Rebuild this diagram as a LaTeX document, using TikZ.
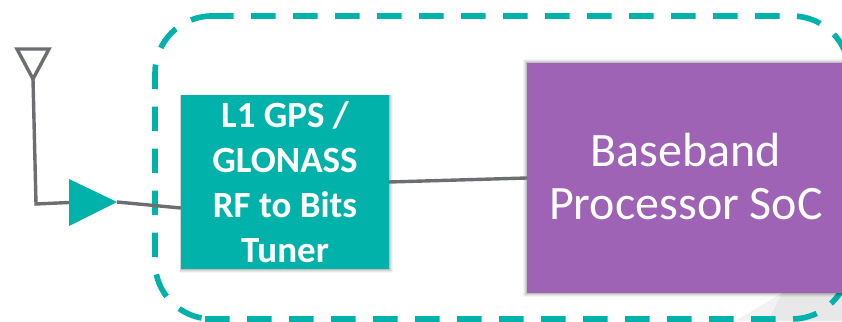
\documentclass[tikz,border=0pt]{standalone}
\usepackage{fontspec}
\setmainfont{Carlito}
\definecolor{tealc}{HTML}{00B2A9}
\definecolor{purp}{HTML}{9E63B5}
\definecolor{wire}{HTML}{6D6E71}
\tikzset{
  wireline/.style={draw=wire,line width=3.4pt,line join=miter},
  fence/.style={draw=tealc,line width=5.6pt,dash pattern=on 24.5pt off 17.5pt,rounded corners=57pt},
  blockbox/.style={rectangle,inner sep=0pt,text=white,align=center},
}
\begin{document}
\begin{tikzpicture}[x=1pt,y=-1pt]
\useasboundingbox (0,0) rectangle (842,321);
\clip (0,0) rectangle (842,321);
% faint background shapes
\fill[black!5] (735,321) -- (782,293) -- (842,293) -- (842,321) -- cycle;
\fill[black!9] (768,321) -- (782,293) -- (842,293) -- (842,321) -- cycle;
% dashed boundary
\draw[fence] (209,16) -- (849,16) -- (849,160);
\draw[fence] (205,319) -- (849,319) -- (849,160);
\draw[fence,dash phase=24.5pt] (205,319) -- (155,319) -- (155,16) -- (209,16);
% shadows
\foreach \o/\a in {1/.10,2/.08,3/.06,4/.04}{
  \fill[black,opacity=\a] (181-\o*0.3,95) rectangle (389+\o,269+\o);
  \fill[black,opacity=\a] (527-\o,63-\o) rectangle (842,293+\o);
}
\node[blockbox,fill=tealc,minimum width=208pt,minimum height=174pt,font=\fontsize{37}{45}\selectfont\bfseries] (tuner) at (285,182) {L1 GPS /\\GLONASS\\RF to Bits\\Tuner};
\node[blockbox,fill=purp,minimum width=315pt,minimum height=230pt] (soc) at (684.5,178) {};
\node[text=white,align=center,font=\fontsize{48}{53}\selectfont,inner sep=0pt] (soclabel) at (686,177) {Baseband\\Processor SoC};
\coordinate (antapex) at (33,79);
\coordinate (antl) at (17,49);
\coordinate (antr) at (49,49);
\coordinate (corner) at (36,204);
\coordinate (ampin) at (69,202.5);
\coordinate (ampout) at (117,202);
\coordinate (ampt) at (69,179);
\coordinate (ampb) at (69,226);
\draw[wireline] (antapex) -- (antl) -- (antr) -- cycle;
\draw[wireline] (antapex) -- (corner) -- (ampin);
\fill[tealc] (ampt) -- (ampout) -- (ampb) -- cycle;
\draw[wireline] (ampout) -- ([yshift=-26pt]tuner.west);
\draw[wireline] (tuner.east) -- (soc.west);
\end{tikzpicture}
\end{document}
